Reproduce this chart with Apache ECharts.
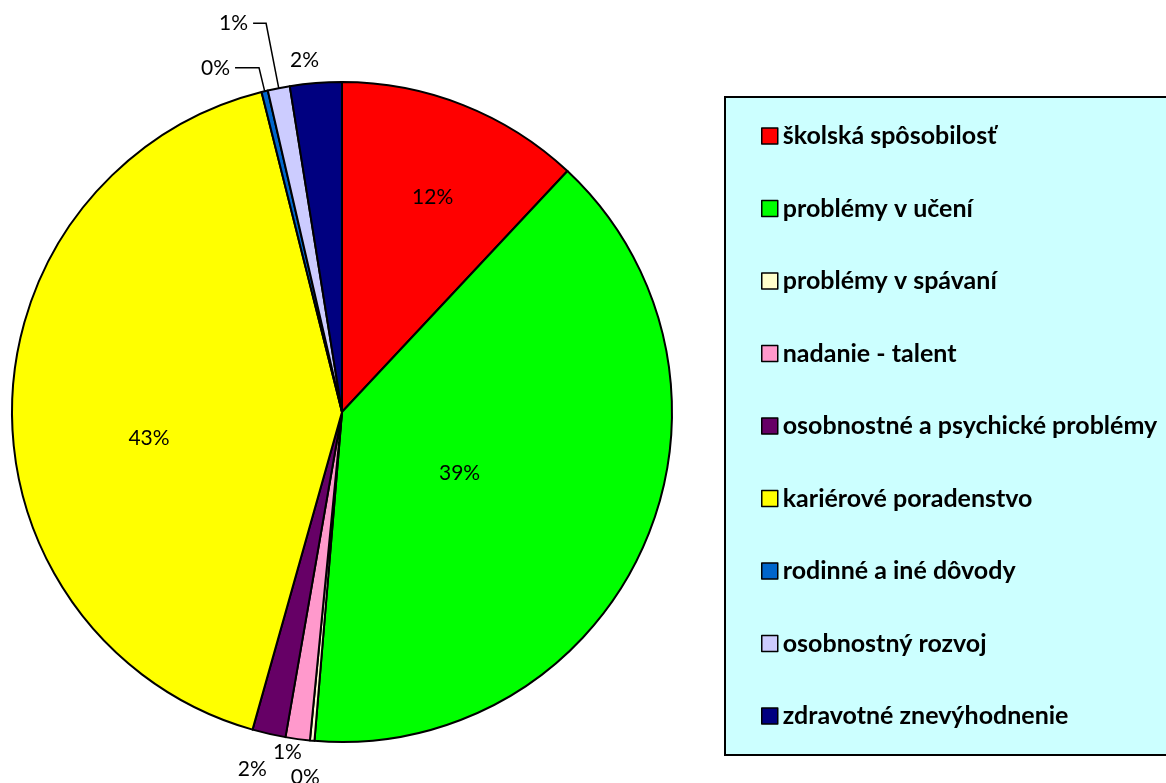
<!DOCTYPE html>
<html>
<head>
<meta charset="utf-8">
<script src="https://cdn.jsdelivr.net/npm/echarts@6/dist/echarts.min.js"></script>
<style>
	html, body { margin: 0; padding: 0; background: #fff; }
	#chart { width: 1166px; height: 783px; }
</style>
</head>
<body>
<div id="chart"></div>
<script>
	/*kategorie (poradie v smere hodinových ručičiek od 12 hodín)*/
	var categories = [
		'školská spôsobilosť',
		'problémy v učení',
		'problémy v spávaní',
		'nadanie - talent',
		'osobnostné a psychické problémy',
		'kariérové poradenstvo',
		'rodinné a iné dôvody',
		'osobnostný rozvoj',
		'zdravotné znevýhodnenie'
	];
	/*podiely odčítané z obrázka (%)*/
	var shares = [11.97, 39.36, 0.22, 1.19, 1.63, 41.71, 0.31, 1.08, 2.53];
	/*popisky tak, ako sú v grafe*/
	var labelTexts = ['12%', '39%', '0%', '1%', '2%', '43%', '0%', '1%', '2%'];

	var colors = ['#ff0000', '#00ff00', '#ffffcc', '#ff99cc', '#660066', '#ffff00', '#0066cc', '#ccccff', '#000080'];

	/*posuny popiskov (iba vzhľad)*/
	var labelShift = [
		{dx: 29, dy: -59},
		{dx: -36, dy: -7},
		{dx: 16, dy: 0},
		{dx: 11, dy: 0},
		{dx: 11, dy: 0},
		{dx: -25, dy: 29},
		{},
		{},
		{dx: 10, dy: 0}
	];
	/*umiestnenie popiskov pre jednotlivé výseky*/
	var labelCfg = [
		{position: 'inside'},
		{position: 'inside'},
		{position: 'outside', len: 36.5, len2: 0, line: false},
		{position: 'outside', len: 13, len2: 0, line: false},
		{position: 'outside', len: 36.7, len2: 0, line: false},
		{position: 'inside'},
		{position: 'outside', len: 24, len2: 24, line: true},
		{position: 'outside', len: 66, len2: 13, line: true},
		{position: 'outside', len: 22.8, len2: 0, line: false}
	];

	var pieData = categories.map(function (name, i) {
		var c = labelCfg[i];
		var item = {
			name: name,
			value: shares[i],
			itemStyle: { color: colors[i] },
			label: { position: c.position }
		};
		if (c.position === 'outside') {
			item.labelLine = { show: c.line, length: c.len, length2: c.len2 };
		}
		return item;
	});

	var myChart = echarts.init(document.getElementById('chart'));
	var option = {
		animation: false,
		legend: {
			orient: 'vertical',
			left: 725,
			top: 97,
			padding: [26, 20, 26, 36],
			itemGap: 46.5,
			itemWidth: 16,
			itemHeight: 16,
			icon: 'rect',
			backgroundColor: '#ccffff',
			borderColor: '#000',
			borderWidth: 2,
			borderRadius: 0,
			selectedMode: false,
			itemStyle: { borderColor: '#000', borderWidth: 1.5 },
			textStyle: {
				fontFamily: 'Lato',
				fontWeight: 'bold',
				fontSize: 25,
				lineHeight: 26,
				color: '#000'
			},
			data: categories
		},
		series: [{
			type: 'pie',
			center: [342, 412],
			radius: 330,
			startAngle: 90,
			clockwise: true,
			avoidLabelOverlap: false,
			minShowLabelAngle: 0,
			silent: true,
			itemStyle: { borderColor: '#000', borderWidth: 2 },
			emphasis: { disabled: true },
			label: {
				show: true,
				color: '#000',
				fontFamily: 'Lato',
				fontSize: 21,
				formatter: function (p) {
					return labelTexts[p.dataIndex];
				}
			},
			labelLine: {
				smooth: false,
				minTurnAngle: 0,
				lineStyle: { color: '#000', width: 1.5 }
			},
			labelLayout: function (p) {
				return labelShift[p.dataIndex];
			},
			data: pieData
		}]
	};
	myChart.setOption(option);
</script>
</body>
</html>
